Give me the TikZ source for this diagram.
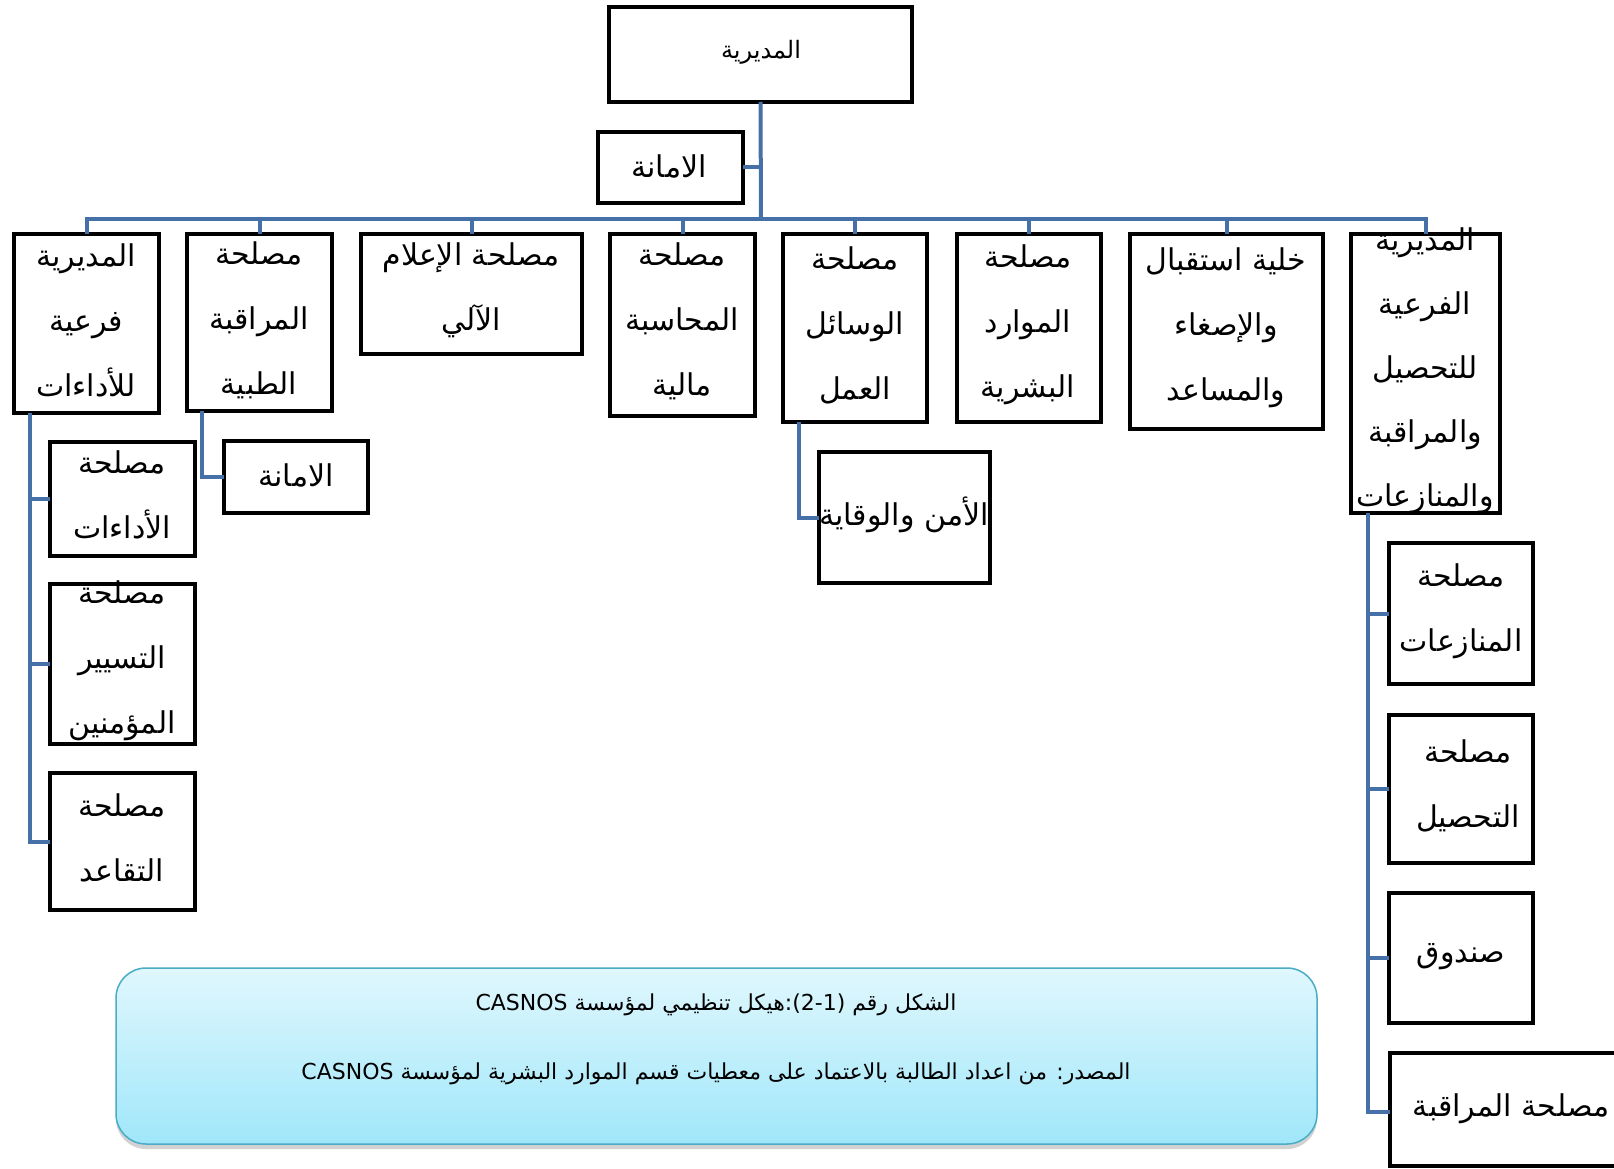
\documentclass[tikz,border=0pt]{standalone}
\usepackage{fontspec}
\newfontfamily\arabicfont[Script=Arabic]{DejaVu Sans}
\TeXXeTstate=1
\usetikzlibrary{shadows}
\newcommand\artxt[1]{\beginR #1\endR}
\definecolor{connblue}{RGB}{70,112,168}
\definecolor{capborder}{RGB}{75,172,198}
\definecolor{captop}{RGB}{224,247,253}
\definecolor{capbot}{RGB}{160,231,250}
\begin{document}
\begin{tikzpicture}[x=1pt,y=-1pt,
  box/.style={draw=black, line width=4.5pt, inner sep=0pt, outer sep=0pt, anchor=north west, fill=white},
  lbl/.style={align=center, inner sep=0pt, font=\arabicfont\fontsize{30}{65}\selectfont},
  conn/.style={draw=connblue, line width=4pt},
  captxt/.style={inner sep=0pt, font=\arabicfont\fontsize{22}{26}\selectfont},
]
\useasboundingbox (0,0) rectangle (1614,1169);
\fill[white] (0,0) rectangle (1614,1169);
\clip (0,0) rectangle (1614,1169);

\coordinate (bar) at (761,219);

% boxes
\node[box, minimum width=303pt, minimum height=95pt] (b0) at (609,7) {};
\node[box, minimum width=145pt, minimum height=71pt] (am) at (598,132) {};
\node[box, minimum width=145pt, minimum height=179pt] (b1) at (14,234) {};
\node[box, minimum width=145pt, minimum height=177pt] (b2) at (187,234) {};
\node[box, minimum width=221pt, minimum height=120pt] (b3) at (361,234) {};
\node[box, minimum width=145pt, minimum height=182pt] (b4) at (610,234) {};
\node[box, minimum width=144pt, minimum height=188pt] (b5) at (783,234) {};
\node[box, minimum width=144pt, minimum height=188pt] (b6) at (957,234) {};
\node[box, minimum width=193pt, minimum height=195pt] (b7) at (1130,234) {};
\node[box, minimum width=149pt, minimum height=279pt] (b8) at (1351,234) {};
\node[box, minimum width=145pt, minimum height=114pt] (sa) at (50,442) {};
\node[box, minimum width=145pt, minimum height=160pt] (sb) at (50,584) {};
\node[box, minimum width=145pt, minimum height=137pt] (sc) at (50,773) {};
\node[box, minimum width=144pt, minimum height=72pt] (am2) at (224,441) {};
\node[box, minimum width=171pt, minimum height=131pt] (amn) at (819,452) {};
\node[box, minimum width=144pt, minimum height=141pt] (m1) at (1389,543) {};
\node[box, minimum width=144pt, minimum height=148pt] (m2) at (1389,715) {};
\node[box, minimum width=144pt, minimum height=130pt] (m3) at (1389,893) {};
\node[box, minimum width=250pt, minimum height=113pt] (m4) at (1390,1053) {};

% connectors
\draw[conn] (b0.south) -- (bar);
\draw[conn] (am.east) -| (bar);
\foreach \b in {b1,b2,b3,b4,b5,b6,b7,b8} {\draw[conn] (\b.north) |- (bar);}
\draw[conn] ([xshift=16pt]b1.south west) |- (sa.west);
\draw[conn] ([xshift=16pt]b1.south west) |- (sb.west);
\draw[conn] ([xshift=16pt]b1.south west) |- (sc.west);
\draw[conn] ([xshift=15pt]b2.south west) |- (am2.west);
\draw[conn] ([xshift=16pt]b5.south west) |- (amn.west);
\draw[conn] ([xshift=17pt]b8.south west) |- (m1.west);
\draw[conn] ([xshift=17pt]b8.south west) |- (m2.west);
\draw[conn] ([xshift=17pt]b8.south west) |- (m3.west);
\draw[conn] ([xshift=17pt]b8.south west) |- ([yshift=-2pt]m4.west);

% labels
\node[lbl, font=\arabicfont\fontsize{24}{30}\selectfont] (t0) at (761,52) {\artxt{المديرية}};
\node[lbl] (tam) at (669,166) {\artxt{الامانة}};
\node[lbl] (t1) at (86,320) {\artxt{المديرية}\\\artxt{فرعية}\\\artxt{للأداءات}};
\node[lbl] (t2) at (259,320) {\artxt{مصلحة}\\\artxt{المراقبة}\\\artxt{الطبية}};
\node[lbl] (t3) at (471,290) {\artxt{مصلحة الإعلام}\\\artxt{الآلي}};
\node[lbl] (t4) at (682,321) {\artxt{مصلحة}\\\artxt{المحاسبة}\\\artxt{مالية}};
\node[lbl] (t5) at (855,325) {\artxt{مصلحة}\\\artxt{الوسائل}\\\artxt{العمل}};
\node[lbl] (t6) at (1028,325) {\artxt{مصلحة}\\\artxt{الموارد}\\\artxt{البشرية}};
\node[lbl] (t7) at (1226,328) {\artxt{خلية استقبال}\\\artxt{والإصغاء}\\\artxt{والمساعد}};
\node[lbl, font=\arabicfont\fontsize{30}{64}\selectfont] (t8) at (1425,371) {\artxt{المديرية}\\\artxt{الفرعية}\\\artxt{للتحصيل}\\\artxt{والمراقبة}\\\artxt{والمنازعات}};
\node[lbl] (tsa) at (122,495) {\artxt{مصلحة}\\\artxt{الأداءات}};
\node[lbl] (tsb) at (122,661) {\artxt{مصلحة}\\\artxt{التسيير}\\\artxt{المؤمنين}};
\node[lbl] (tsc) at (122,838) {\artxt{مصلحة}\\\artxt{التقاعد}};
\node[lbl] (tam2) at (296,475) {\artxt{الامانة}};
\node[lbl] (tamn) at (904,515) {\artxt{الأمن والوقاية}};
\node[lbl] (tm1) at (1461,611) {\artxt{مصلحة}\\\artxt{المنازعات}};
\node[lbl] (tm2) at (1468,786) {\artxt{مصلحة}\\\artxt{التحصيل}};
\node[lbl] (tm3) at (1461,957) {\artxt{صندوق}};
\node[lbl] (tm4) at (1511,1109) {\artxt{مصلحة المراقبة}};

% caption box
\node[draw=capborder, line width=1.5pt, rounded corners=30pt, top color=captop, bottom color=capbot,
      drop shadow={shadow xshift=0pt, shadow yshift=-5pt, opacity=0.35},
      anchor=north west, minimum width=1201pt, minimum height=176pt, inner sep=0pt, outer sep=0pt] (cap) at (116,968) {};
\node[captxt] (c1) at (716,1005) {\artxt{الشكل رقم (2-1):هيكل تنظيمي لمؤسسة CASNOS}};
\node[captxt] (c2) at (716,1074) {\artxt{المصدر\beginL:\endL{} من اعداد الطالبة بالاعتماد على معطيات قسم الموارد البشرية لمؤسسة CASNOS}};
\end{tikzpicture}
\end{document}
